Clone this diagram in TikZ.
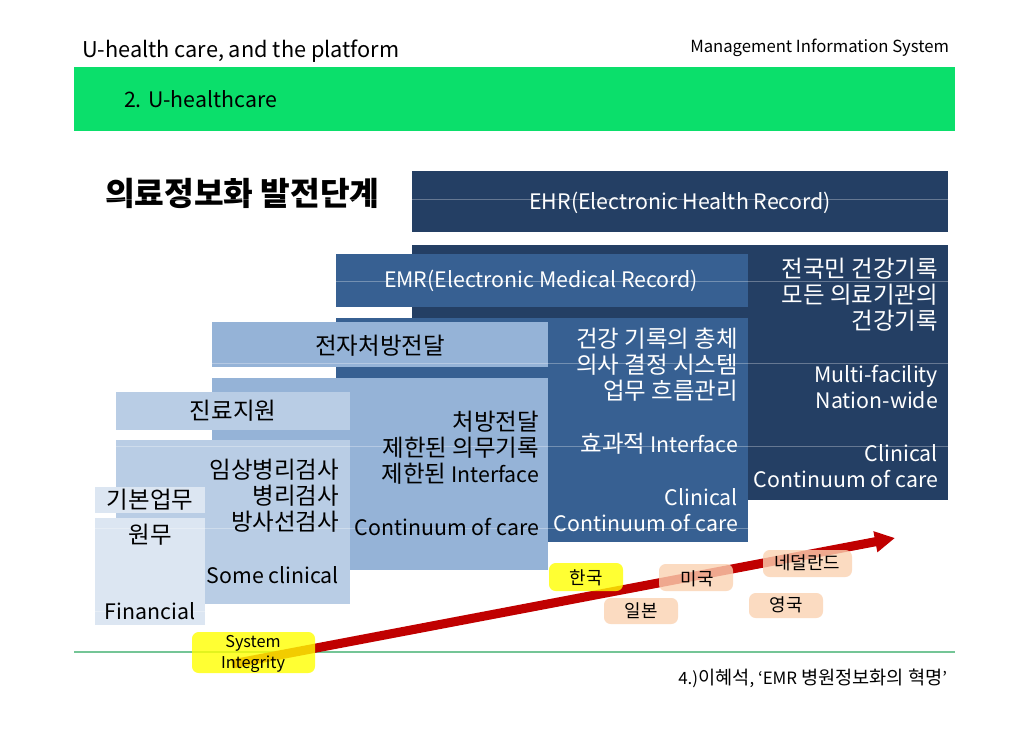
\documentclass[tikz,border=0pt]{standalone}
\usepackage{fontspec}
\setmainfont{Noto Sans CJK KR}
\newfontfamily\hgfont[Scale=1.1]{Noto Sans CJK KR}
\newcommand\K[1]{{\hgfont #1}}
\usetikzlibrary{arrows.meta}
\definecolor{gbar}{HTML}{0BDF6B}
\definecolor{gline}{HTML}{74C596}
\definecolor{navy}{HTML}{243F64}
\definecolor{midblue}{HTML}{376092}
\definecolor{ltblue}{HTML}{95B3D7}
\definecolor{ltrblue}{HTML}{B9CDE5}
\definecolor{ltstblue}{HTML}{DCE6F2}
\definecolor{arrred}{HTML}{C00000}
\definecolor{peach}{HTML}{FBD2B2}
\definecolor{yel}{HTML}{FFFF00}
\tikzset{
  boxtxt/.style={font=\fontsize{16}{19.7}\selectfont},
  wtxt/.style={boxtxt, text=white},
  ktxt/.style={boxtxt, text=black},
  tag/.style={rounded corners=5pt, fill opacity=0.8},
  tagtxt/.style={font=\fontsize{12.2}{15.2}\selectfont, text=black, align=center},
  faint/.style={white, opacity=0.3, line width=0.6pt}
}
\begin{document}
\begin{tikzpicture}[x=0.75pt,y=-0.75pt, every node/.style={inner sep=0pt, outer sep=0pt}]
\useasboundingbox (0,0) rectangle (1030,728);
\fill[white] (0,0) rectangle (1030,728);

% header
\node[anchor=west, font=\fontsize{16.3}{19}\selectfont] (hleft) at (82,51) {U-health care, and the platform};
\node[anchor=east, font=\fontsize{12.5}{15}\selectfont] (hright) at (949,48) {Management Information System};
\fill[gbar] (74,67) rectangle (955,131);
\node[anchor=west, font=\fontsize{16}{19}\selectfont] (sect) at (124,99) {2. U-healthcare};

% title
\node[anchor=west, font=\fontsize{22}{26}\selectfont\bfseries] (title) at (105,193) {\K{의료정보화 발전단계}};

% boxes
\fill[navy] (412,171) rectangle (948,232);
\fill[navy] (412,245) rectangle (948,500);
\fill[midblue] (336,254) rectangle (748,307);
\fill[midblue] (336,318) rectangle (748,542);
\fill[ltblue] (212,322) rectangle (548,367);
\fill[ltblue] (212,378) rectangle (548,570);
\fill[ltrblue] (116,392) rectangle (350,430);
\fill[ltrblue] (116,440) rectangle (350,604);
\fill[ltstblue] (95,487) rectangle (205,513);
\fill[ltstblue] (95,518) rectangle (205,625);

% faint grid lines
\foreach \yy in {199,281,363,446,528} \draw[faint] (95,\yy) -- (948,\yy);
\draw[faint] (95,611) -- (205,611);

% EHR / EMR
\node[wtxt] (ehr) at (680,203) {EHR(Electronic Health Record)};
\node[wtxt] (emr) at (541,281) {EMR(Electronic Medical Record)};

% right dark box text
\foreach \t/\yy [count=\i] in {\K{전국민 건강기록}/277, \K{모든 의료기관의}/303, \K{건강기록}/329, Multi-facility/382, Nation-wide/408, Clinical/461, Continuum of care/487}
  \node[wtxt, anchor=base east] (ehrl\i) at (938,\yy) {\t};

% medium box text
\foreach \t/\yy [count=\i] in {\K{건강 기록의 총체}/347, \K{의사 결정 시스템}/373, \K{업무 흐름관리}/399, \K{효과적} Interface/452, Clinical/505, Continuum of care/531}
  \node[wtxt, anchor=base east] (emrl\i) at (738,\yy) {\t};

% light boxes
\node[ktxt] (epres) at (380,346) {\K{전자처방전달}};
\foreach \t/\yy [count=\i] in {\K{처방전달}/430, \K{제한된 의무기록}/456, \K{제한된} Interface/482, Continuum of care/535}
  \node[ktxt, anchor=base east] (ll\i) at (539,\yy) {\t};

\node[ktxt] (jinryo) at (233,411) {\K{진료지원}};
\foreach \t/\yy [count=\i] in {\K{임상병리검사}/478, \K{병리검사}/504, \K{방사선검사}/530, Some clinical/583}
  \node[ktxt, anchor=base east] (lr\i) at (339,\yy) {\t};

\node[ktxt] (basic) at (150,500) {\K{기본업무}};
\node[ktxt] (wonmu) at (150,535) {\K{원무}};
\node[ktxt] (fin) at (150,611) {Financial};

% footer line
\draw[gline, line width=1pt] (74,652) -- (955,652);

% arrow
\coordinate (arrS) at (232,664);
\coordinate (arrE) at (895,538);
\draw[arrred, line width=6.8pt, -{Triangle[length=15pt,width=15pt]}] (arrS) -- (arrE);

% tags
\fill[tag, yel] (192,632) rectangle (315,673);
\fill[tag, yel] (549,563) rectangle (623,591);
\fill[tag, peach] (659,564) rectangle (733,591);
\fill[tag, peach] (604,598) rectangle (678,624);
\fill[tag, peach] (763,550) rectangle (852,577);
\fill[tag, peach] (749,593) rectangle (823,618);
\node[tagtxt] (sysint) at (253,654) {System\\Integrity};
\node[tagtxt] (korea) at (586,578) {\K{한국}};
\node[tagtxt] (usa) at (697,579) {\K{미국}};
\node[tagtxt] (japan) at (641,611) {\K{일본}};
\node[tagtxt] (nl) at (807,563) {\K{네덜란드}};
\node[tagtxt] (uk) at (786,605) {\K{영국}};

% footer text
\node[anchor=east, font=\fontsize{12.7}{15}\selectfont] (foot) at (947,678) {4.)\K{이혜석}, ‘EMR \K{병원정보화의 혁명}’};
\end{tikzpicture}
\end{document}
